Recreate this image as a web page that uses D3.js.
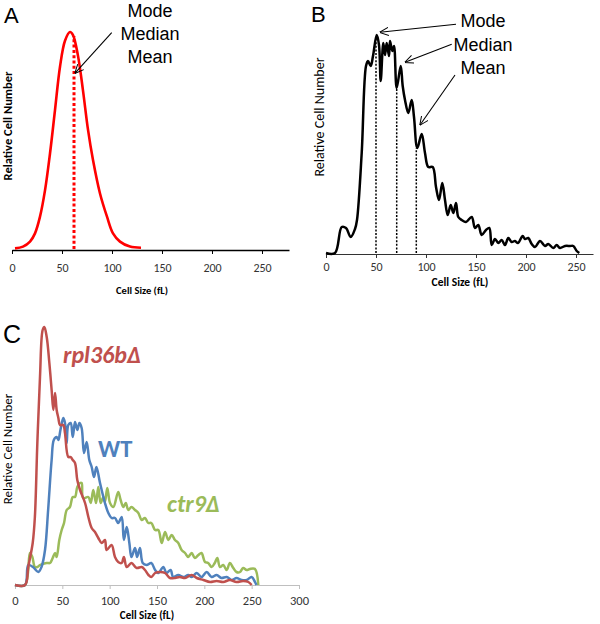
<!DOCTYPE html>
<html>
<head>
<meta charset="utf-8">
<script src="https://cdn.jsdelivr.net/npm/d3@7"></script>
<style>
  html, body { margin: 0; padding: 0; background: #fff; }
  svg { display: block; }
  text { font-family: Carlito, Calibri, "Liberation Sans", Arial, sans-serif; }
</style>
</head>
<body>
<script>
// ---------- DATA ----------
// Panel A: idealised distribution
const sizeA  = [3, 11, 18, 23, 28, 33, 38, 43, 48, 53, 58, 61, 66, 71, 76, 81, 88, 95, 101, 108, 118, 129];
const countA = [0.3, 1.1, 3.4, 7.2, 14.9, 27, 44, 64, 84, 96, 100, 98.6, 89, 73, 55, 41, 25.6, 14.9, 7.2, 3.4, 1.1, 0.6];
const statA = [62];          // mode = median = mean
const statTopA = [98];
const ticksA = [0, 50, 100, 150, 200, 250];

// Panel B: WT distribution
const sizeB = [0, 9, 15.7, 20, 24.7, 29, 31, 35.7, 40, 42, 44.7, 47, 50.7, 53, 54.7, 57.3, 59, 60.7, 63, 64,
  66.3, 68, 70.7, 74.7, 76.7, 79, 82.3, 85.7, 88, 91.3, 95.7, 99, 102.3, 106.7, 110, 113, 116.3, 119, 121.7, 124.7,
  127.3, 130, 132.3, 135.7, 140, 145.7, 149, 152.3, 155.7, 160, 163.3, 165.7, 169, 172.3, 175.7, 179, 182.3, 185.7, 189, 192,
  196.7, 199, 202.3, 205.7, 209, 214, 219, 222.3, 227.3, 230.7, 234, 239, 244, 247.3, 250.7, 253.3];
const countB = [0, 0, 26, 25, 16, 24, 33, 100, 187, 192, 187, 197, 218, 208, 172, 210, 198, 210, 197, 212,
  202, 207, 165, 187, 167, 153, 140, 153, 136, 105, 119, 100, 86, 86, 66, 53, 70, 53, 38, 48,
  40, 50, 36, 33, 31, 36, 25, 28, 18, 23, 25, 8, 14, 10, 13, 8, 15, 11, 12, 10,
  17, 14, 15, 9, 6, 12, 7, 9, 5, 8, 5, 7, 7, 7, 2, 0];
const statNames = ["Mode", "Median", "Mean"];
const statB = [50, 70.7, 90.3];
const statTopB = [216, 166, 105];
const ticksB = [0, 50, 100, 150, 200, 250];

// Panel C: three strains
const sizeR = [0, 10.6, 14, 18.7, 21, 23.6, 26.4, 29.2, 31, 33.5, 36.3, 38.7, 40.5, 42.3, 44, 45.8, 47.5, 51, 52.8, 56.3,
  58.8, 61, 63.4, 65.8, 68.7, 74, 77.5, 81, 84.5, 88, 91.5, 95, 96.8, 102, 105.6, 109, 112.7, 115, 118, 123,
  128.5, 133.8, 137.3, 141, 144, 148, 153, 158.5, 163.7, 169, 174, 179.6, 186.6, 192, 199, 206, 213, 220, 227, 234,
  241, 246.5, 250];
const countR = [0, 0, 18, 42, 68, 142, 208, 255, 258, 248, 222, 195, 175, 192, 175, 167, 160, 160, 152, 128,
  128, 125, 122, 105, 95, 82, 68, 57, 53, 47, 42, 45, 35, 40, 28, 23, 22, 28, 18, 22,
  17, 18, 15, 10, 8, 12, 13, 12, 7, 7, 8, 7, 10, 7, 5, 3, 4, 3, 5, 3,
  4, 3, 0];
const sizeW = [0, 10.6, 14, 19, 24.6, 28, 31.7, 35, 38.7, 41, 44, 45.8, 48, 51, 52.8, 54.6, 56.3, 58.8, 61, 63.4,
  65.8, 68, 70.4, 72.9, 75.7, 78.5, 81, 83.5, 86, 89.8, 95, 98.6, 102, 105.6, 109, 112.7, 115, 118, 120.8, 123,
  126.8, 129, 132, 134.9, 139, 144, 148, 151.4, 156.7, 160, 164.4, 167, 172.5, 178, 183, 186.6, 192, 197, 202.5, 207.7,
  213, 218, 223.6, 229, 234, 239.4, 244.7, 250, 253.5, 255];
const countW = [0, 0, 20, 18, 13, 18, 35, 75, 125, 145, 148, 145, 155, 167, 162, 142, 160, 162, 148, 163,
  155, 162, 157, 132, 143, 125, 118, 108, 118, 102, 82, 72, 67, 67, 62, 68, 45, 58, 42, 28,
  37, 28, 37, 22, 20, 22, 15, 12, 18, 12, 15, 8, 10, 8, 10, 8, 12, 8, 13, 8,
  10, 7, 8, 5, 7, 5, 5, 8, 3, 0];
const sizeG = [0, 10.6, 15.8, 18.3, 21, 23.6, 26.4, 33.5, 37, 39.8, 42.3, 44, 46.8, 49.3, 51.8, 54.6, 58, 61, 63.4, 65.8,
  68.7, 70.4, 72, 77.5, 80, 82.7, 85.6, 88, 90.5, 93.3, 95, 97.5, 100.4, 103.9, 109, 111.6, 114.4, 117, 119.7, 123,
  126.8, 130.3, 133.8, 137.3, 140.8, 144, 148, 151.4, 155, 158.5, 162, 165.5, 169, 172.5, 176, 179.6, 183, 186.6, 190, 193.7,
  197, 200.7, 204, 207.7, 211, 213.7, 216.5, 220, 223.6, 227, 230.6, 234, 237.7, 241, 244.7, 248, 253.5, 257];
const countG = [0, 0, 32, 28, 18, 18, 20, 22, 22, 27, 32, 28, 45, 55, 62, 75, 78, 88, 88, 98,
  102, 102, 87, 88, 82, 95, 82, 98, 82, 88, 83, 97, 82, 78, 93, 85, 78, 82, 75, 78,
  75, 72, 65, 67, 62, 62, 55, 55, 42, 53, 45, 50, 45, 42, 35, 32, 28, 32, 27, 30,
  32, 23, 22, 18, 22, 27, 18, 20, 15, 22, 17, 13, 13, 17, 15, 16, 16, 0];
const seriesC = ["ctr9Δ", "WT", "rpl36bΔ"];
const ticksC = [0, 50, 100, 150, 200, 250, 300];

const zip = (xs, ys) => xs.map((x, i) => [x, ys[i]]);
const FONT = 'Carlito, Calibri, "Liberation Sans", Arial, sans-serif';
const SANS = '"Liberation Sans", Arial, sans-serif';

// ---------- SVG ----------
const svg = d3.select("body").append("svg").attr("width", 600).attr("height", 624);

const defs = svg.append("defs");
defs.append("marker").attr("id", "arr")
  .attr("viewBox", "0 0 10 10").attr("refX", 9.5).attr("refY", 5)
  .attr("markerWidth", 9).attr("markerHeight", 9)
  .attr("markerUnits", "userSpaceOnUse").attr("orient", "auto")
  .append("path").attr("d", "M0,0.5 L10,5 L0,9.5")
  .attr("fill", "none").attr("stroke", "#000").attr("stroke-width", 1.1);

function drawAxis(g, scale, ticks, y, color, width, labelY, fontSize, labelColor) {
  const ax = g.append("g").attr("transform", `translate(0,${y})`)
    .call(d3.axisBottom(scale).tickValues(ticks).tickSize(4).tickSizeOuter(0).tickFormat(d3.format("d")));
  ax.select(".domain").attr("stroke", color).attr("stroke-width", width);
  ax.selectAll(".tick line").attr("stroke", color).attr("stroke-width", 1);
  ax.selectAll(".tick text").attr("y", labelY).attr("dy", 0)
    .attr("font-size", fontSize).attr("fill", labelColor).style("font-family", FONT);
  return ax;
}

// ============ PANEL A ============
const gA = svg.append("g");
const xA = d3.scaleLinear().domain([0, 277]).range([12, 289]);
const yA = d3.scaleLinear().domain([0, 100]).range([249, 32]);

drawAxis(gA, xA, ticksA, 250, "#000", 1.6, 22, 12, "#333");

gA.append("path").datum(zip(sizeA, countA))
  .attr("fill", "none").attr("stroke", "#FF0000").attr("stroke-width", 2.6)
  .attr("d", d3.line().x(d => xA(d[0])).y(d => yA(d[1])).curve(d3.curveCatmullRom.alpha(0.5)));

gA.selectAll(".statA").data(statA).join("line")
  .attr("x1", d => xA(d)).attr("x2", d => xA(d))
  .attr("y1", yA(0)).attr("y2", (d, i) => yA(statTopA[i]))
  .attr("stroke", "#FF0000").attr("stroke-width", 3).attr("stroke-dasharray", "3,2.3");

gA.append("line")
  .attr("x1", xA(99.7)).attr("y1", yA(99.7)).attr("x2", xA(63)).attr("y2", yA(81))
  .attr("stroke", "#000").attr("stroke-width", 1.1).attr("marker-end", "url(#arr)");

gA.selectAll(".lblA").data(statNames).join("text")
  .attr("x", 150).attr("y", (d, i) => 16.5 + i * 23.3)
  .attr("text-anchor", "middle").attr("font-size", 18).style("font-family", SANS)
  .attr("fill", "#000").text(d => d);

gA.append("text").attr("x", 4).attr("y", 23).attr("font-size", 22).style("font-family", SANS).text("A");
gA.append("text").attr("x", 142).attr("y", 294).attr("text-anchor", "middle")
  .attr("font-size", 10.5).attr("font-weight", "bold").text("Cell Size (fL)");
gA.append("text").attr("transform", "translate(11.5,126) rotate(-90)").attr("text-anchor", "middle")
  .attr("font-size", 12.5).attr("font-weight", "bold").text("Relative Cell Number");

// ============ PANEL B ============
const gB = svg.append("g");
const xB = d3.scaleLinear().domain([0, 267]).range([326, 593]);
const yB = d3.scaleLinear().domain([0, 220]).range([253, 33]);

drawAxis(gB, xB, ticksB, 254, "#333", 1.2, 16.7, 12, "#333");

gB.selectAll(".statB").data(statB).join("line")
  .attr("x1", d => xB(d)).attr("x2", d => xB(d))
  .attr("y1", yB(0)).attr("y2", (d, i) => yB(statTopB[i]))
  .attr("stroke", "#000").attr("stroke-width", 1.5).attr("stroke-dasharray", "2,1.6");

gB.append("path").datum(zip(sizeB, countB))
  .attr("fill", "none").attr("stroke", "#000").attr("stroke-width", 2.5).attr("stroke-linejoin", "round")
  .attr("d", d3.line().x(d => xB(d[0])).y(d => yB(d[1])).curve(d3.curveCatmullRom.alpha(0.5)));

const arrowsB = [
  { from: [130, 228.7], to: [54, 220.7] },
  { from: [125.7, 208.7], to: [79, 190.7] },
  { from: [129, 178], to: [94, 128] }
];
gB.selectAll(".arrB").data(arrowsB).join("line")
  .attr("x1", d => xB(d.from[0])).attr("y1", d => yB(d.from[1]))
  .attr("x2", d => xB(d.to[0])).attr("y2", d => yB(d.to[1]))
  .attr("stroke", "#000").attr("stroke-width", 1.1).attr("marker-end", "url(#arr)");

gB.selectAll(".lblB").data(statNames).join("text")
  .attr("x", 483).attr("y", (d, i) => 27.3 + i * 23.3)
  .attr("text-anchor", "middle").attr("font-size", 18).style("font-family", SANS)
  .attr("fill", "#000").text(d => d);

gB.append("text").attr("x", 311).attr("y", 22).attr("font-size", 22).style("font-family", SANS).text("B");
gB.append("text").attr("x", 460).attr("y", 286).attr("text-anchor", "middle")
  .attr("font-size", 11.5).attr("font-weight", "bold").text("Cell Size (fL)");
gB.append("text").attr("transform", "translate(324,117) rotate(-90)").attr("text-anchor", "middle")
  .attr("font-size", 14).text("Relative Cell Number");

// ============ PANEL C ============
const gC = svg.append("g");
const xC = d3.scaleLinear().domain([0, 300]).range([15, 299]);
const yC = d3.scaleLinear().domain([0, 260]).range([585, 325]);

drawAxis(gC, xC, ticksC, 585, "#BFBFBF", 1.2, 20, 12.5, "#333");

const colorC = { "rpl36bΔ": "#C0504D", "WT": "#4F81BD", "ctr9Δ": "#9BBB59" };
const dataC = {
  "ctr9Δ": zip(sizeG, countG),
  "WT": zip(sizeW, countW),
  "rpl36bΔ": zip(sizeR, countR)
};
const lineC = d3.line().x(d => xC(d[0])).y(d => yC(d[1])).curve(d3.curveCatmullRom.alpha(0.5));
gC.selectAll(".serC").data(seriesC).join("path")
  .attr("fill", "none").attr("stroke", d => colorC[d]).attr("stroke-width", 2.5)
  .attr("stroke-linejoin", "round").attr("d", d => lineC(dataC[d]));

const labelsC = [
  { name: "rpl36bΔ", x: 63, y: 363, size: 24, italic: true },
  { name: "WT", x: 98, y: 457, size: 24.5, italic: false },
  { name: "ctr9Δ", x: 167, y: 512, size: 24, italic: true }
];
gC.selectAll(".lblC").data(labelsC).join("text")
  .attr("x", d => d.x).attr("y", d => d.y).attr("font-size", d => d.size)
  .attr("font-weight", "bold").attr("font-style", d => d.italic ? "italic" : "normal")
  .attr("fill", d => colorC[d.name]).text(d => d.name);

gC.append("text").attr("x", 3).attr("y", 343).attr("font-size", 25).style("font-family", SANS).text("C");
gC.append("text").attr("x", 147).attr("y", 619).attr("text-anchor", "middle")
  .attr("font-size", 11).attr("font-weight", "bold").text("Cell Size (fL)");
gC.append("text").attr("transform", "translate(11.5,449) rotate(-90)").attr("text-anchor", "middle")
  .attr("font-size", 13).text("Relative Cell Number");
</script>
</body>
</html>
